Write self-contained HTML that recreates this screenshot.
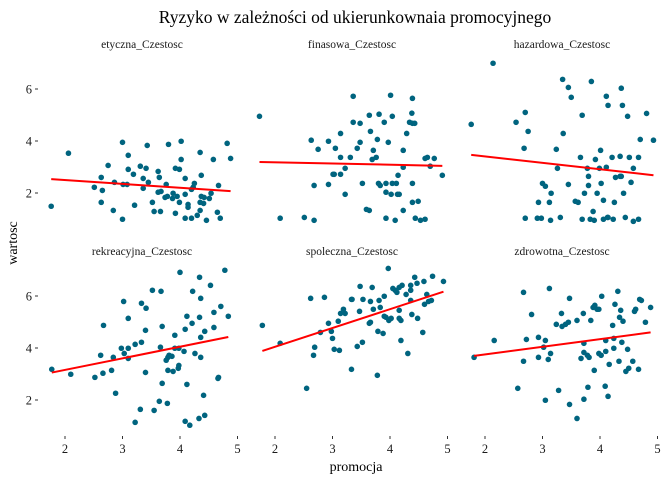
<!DOCTYPE html>
<html><head><meta charset="utf-8">
<style>
body{margin:0;background:#fff;}
svg{display:block;font-family:"Liberation Serif",serif;}
</style></head>
<body>
<svg id="chart" width="672" height="480" viewBox="0 0 672 480">
<text x="355" y="23" font-size="17.5" text-anchor="middle" fill="#000">Ryzyko w zależności od ukierunkownaia promocyjnego</text>
<text x="356" y="471" font-size="14" text-anchor="middle" fill="#000">promocja</text>
<text x="0" y="0" font-size="14" text-anchor="middle" fill="#000" transform="translate(17,243) rotate(-90)">wartosc</text>
<g id="panels"></g>
</svg>
<script>
const facetNames = ["etyczna_Czestosc","finasowa_Czestosc","hazardowa_Czestosc","rekreacyjna_Czestosc","spoleczna_Czestosc","zdrowotna_Czestosc"];
const xTicks = [2,3,4,5];
const yTicks = [2,4,6];
const etycznaX = [1.76,2.06,3.00,3.10,2.75,2.63,2.51,2.65,2.63,2.84,3.00,2.86,3.01,3.08,3.10,3.19,3.21,3.31,3.36,3.36,3.41,3.43,3.45,3.52,3.55,3.62,3.64,3.62,3.67,3.66,3.76,3.74,3.80,3.78,3.87,3.88,3.92,3.99,3.92,3.95,3.99,4.02,4.02,4.09,4.09,4.09,4.14,4.14,4.20,4.20,4.25,4.23,4.30,4.35,4.37,4.37,4.35,4.41,4.35,4.42,4.46,4.51,4.54,4.58,4.67,4.65,4.70,4.82,4.88];
const etycznaY = [1.49,3.53,3.95,3.45,3.06,2.60,2.22,2.10,1.64,1.33,0.99,2.41,2.33,2.33,2.91,2.72,1.53,3.03,2.56,2.18,2.95,3.83,2.41,1.64,1.29,2.83,2.60,2.03,2.06,1.29,2.33,1.83,3.87,1.87,1.79,1.99,2.95,2.91,1.22,1.87,1.64,3.99,3.29,2.56,1.95,1.03,1.56,1.45,2.14,1.03,2.37,2.22,1.14,3.56,2.68,1.87,1.64,1.60,1.33,1.83,0.95,1.79,1.99,3.29,2.29,1.26,1.03,3.91,3.33];
const finasowaX = [1.73,2.09,2.51,2.68,2.63,2.75,2.68,2.93,2.93,3.05,3.01,3.03,3.14,3.14,3.14,3.22,3.22,3.31,3.36,3.36,3.43,3.48,3.48,3.52,3.59,3.64,3.64,3.66,3.71,3.69,3.76,3.78,3.80,3.83,3.81,3.90,3.93,3.93,3.93,3.97,4.01,4.04,4.04,4.02,4.11,4.13,4.16,4.14,4.09,4.23,4.23,4.23,4.29,4.34,4.38,4.39,4.39,4.43,4.39,4.39,4.49,4.44,4.53,4.61,4.61,4.65,4.70,4.77,4.91];
const finasowaY = [4.95,1.03,1.06,0.95,4.03,3.68,2.29,3.99,2.33,3.72,2.72,2.72,4.29,3.37,2.72,2.95,1.95,3.37,5.72,4.72,3.72,4.68,3.95,2.37,1.37,1.33,4.99,4.37,3.64,3.29,3.37,4.06,2.37,2.29,5.03,4.72,2.37,2.03,1.03,3.95,5.76,4.95,2.37,1.95,2.37,1.95,1.95,2.68,0.95,3.64,2.99,1.33,4.29,4.72,5.07,5.64,4.68,4.68,2.37,1.64,1.68,1.03,0.95,0.99,3.33,3.37,3.03,3.33,2.68];
const hazardowaX = [1.76,2.14,2.54,2.70,2.75,2.68,2.70,2.91,2.98,2.93,3.00,3.05,3.15,3.12,3.14,3.24,3.26,3.31,3.35,3.36,3.45,3.50,3.45,3.57,3.62,3.66,3.69,3.69,3.73,3.78,3.80,3.80,3.85,3.83,3.90,3.88,3.92,3.95,3.99,4.01,4.02,4.06,4.06,4.11,4.14,4.11,4.13,4.14,4.21,4.25,4.23,4.27,4.35,4.35,4.37,4.37,4.39,4.41,4.48,4.44,4.51,4.54,4.58,4.58,4.67,4.67,4.70,4.81,4.93];
const hazardowaY = [4.64,6.99,4.72,5.10,4.37,3.72,1.03,1.03,1.03,1.64,2.37,2.26,1.99,1.64,0.95,3.68,2.95,1.06,6.37,4.29,6.06,5.68,2.33,1.68,1.64,3.37,4.99,0.99,1.99,2.95,2.64,2.29,6.29,0.99,0.95,1.29,3.29,1.99,2.95,3.64,2.37,1.72,0.99,5.72,5.37,2.99,1.06,1.06,3.37,1.64,0.99,2.60,3.41,2.64,2.64,6.03,5.37,1.99,4.95,1.06,3.37,2.41,2.95,0.91,3.37,0.99,4.06,5.06,4.03];
const rekreacyjnaX = [1.77,2.10,2.52,2.66,2.62,2.67,2.81,2.84,2.88,2.98,3.02,3.03,3.10,3.10,3.10,3.22,3.22,3.31,3.33,3.33,3.41,3.40,3.40,3.52,3.55,3.64,3.66,3.67,3.69,3.69,3.76,3.78,3.79,3.81,3.86,3.79,3.88,3.91,3.91,3.98,3.97,3.98,4.00,4.07,4.09,4.09,4.12,4.12,4.17,4.21,4.22,4.26,4.33,4.34,4.34,4.36,4.36,4.36,4.41,4.43,4.43,4.53,4.59,4.59,4.66,4.67,4.71,4.78,4.84];
const rekreacyjnaY = [3.18,2.99,2.87,3.03,3.72,4.87,3.14,3.64,2.26,3.99,5.79,3.79,3.99,3.60,5.14,4.14,1.14,1.64,4.22,5.72,5.53,4.68,3.06,6.22,1.60,1.95,4.03,6.18,4.83,2.64,3.53,1.87,3.64,3.72,3.68,3.14,3.10,4.49,3.99,3.99,3.22,3.33,6.91,3.87,4.72,1.18,5.22,2.60,1.03,4.95,6.18,3.79,1.29,6.72,5.18,5.91,4.41,3.64,2.18,4.64,1.41,6.41,5.37,4.79,2.83,2.87,5.60,6.99,5.22];
const spolecznaX = [1.78,2.09,2.55,2.62,2.67,2.69,2.79,2.86,2.93,2.98,3.00,3.03,3.10,3.12,3.14,3.19,3.22,3.33,3.34,3.33,3.43,3.47,3.48,3.52,3.53,3.64,3.66,3.66,3.69,3.71,3.78,3.79,3.81,3.83,3.88,3.90,3.90,3.93,3.97,3.98,4.02,4.05,4.09,4.12,4.16,4.21,4.16,4.16,4.19,4.19,4.28,4.31,4.36,4.36,4.36,4.38,4.43,4.47,4.48,4.57,4.59,4.60,4.64,4.67,4.72,4.74,4.93];
const spolecznaY = [4.87,4.18,2.45,5.91,3.72,4.03,4.60,5.95,4.95,4.64,4.37,3.95,5.03,3.91,5.33,5.49,5.33,5.87,5.87,3.18,4.06,5.41,6.37,4.22,5.87,4.95,4.99,5.79,6.33,5.49,2.95,4.64,5.83,5.56,4.56,5.99,5.22,5.18,7.06,5.06,5.14,6.29,6.22,6.14,6.33,6.41,5.45,5.14,5.06,4.29,6.06,3.79,6.41,6.22,5.83,5.29,6.72,6.49,5.14,4.60,6.56,5.68,6.06,5.79,5.83,6.76,6.56];
const zdrowotnaX = [1.81,2.16,2.57,2.67,2.67,2.72,2.81,2.93,2.93,3.02,3.05,3.05,3.10,3.14,3.12,3.24,3.28,3.33,3.34,3.40,3.45,3.47,3.47,3.60,3.60,3.67,3.71,3.72,3.72,3.72,3.78,3.81,3.79,3.84,3.88,3.91,3.90,3.95,3.98,3.98,4.02,4.03,4.09,4.10,4.10,4.14,4.16,4.22,4.24,4.24,4.26,4.31,4.33,4.34,4.36,4.40,4.38,4.45,4.48,4.50,4.57,4.60,4.62,4.67,4.69,4.72,4.79,4.88];
const zdrowotnaY = [3.64,4.29,2.45,6.14,3.49,4.33,5.29,4.41,3.64,4.03,4.29,1.99,3.56,3.79,6.29,4.91,2.37,5.33,4.83,4.91,4.99,5.91,1.83,1.29,5.06,3.60,5.33,4.18,3.83,2.03,3.72,3.64,2.49,5.06,5.56,5.64,3.14,5.49,5.49,3.79,3.72,5.99,2.53,4.29,3.87,2.14,3.37,4.87,4.37,3.99,5.68,6.18,3.49,5.18,5.45,5.03,4.22,3.10,3.95,3.22,3.49,5.41,5.49,3.18,5.87,5.83,4.99,5.56];

const seriesX = [etycznaX, finasowaX, hazardowaX, rekreacyjnaX, spolecznaX, zdrowotnaX];
const seriesY = [etycznaY, finasowaY, hazardowaY, rekreacyjnaY, spolecznaY, zdrowotnaY];

const NS = "http://www.w3.org/2000/svg";
const root = document.getElementById("panels");
function mk(tag, attrs, parent){
  const e = document.createElementNS(NS, tag);
  for (const k in attrs) e.setAttribute(k, attrs[k]);
  parent.appendChild(e);
  return e;
}
function xScale(col){ return v => 65 + col*210 + (v-2)*57.5; }
function yScale(row){ return v => (row===0 ? 193 : 400) - (v-2)*26; }

for (let i=0;i<6;i++){
  const row = Math.floor(i/3), col = i%3;
  const sx = xScale(col), sy = yScale(row);
  const g = mk("g", {}, root);
  
  
  const strip = mk("text", {x: 45+col*210+97, y: row===0?48:255, "font-size":"11.5", "text-anchor":"middle", fill:"#1a1a1a"}, g);
  strip.textContent = facetNames[i];
  
  
  if (col===0){
    yTicks.forEach(t=>{
      const lab = mk("text", {x:32, y:sy(t)+4.5, "font-size":"12.5", "text-anchor":"end", fill:"#1a1a1a"}, g);
      lab.textContent = t;
      
      
      const tk = mk("line", {x1:35, x2:38, y1:sy(t), y2:sy(t), stroke:"#333", "stroke-width":1}, g);
      
      
    });
  }
  if (row===1){
    xTicks.forEach(t=>{
      const tk = mk("line", {x1:sx(t), x2:sx(t), y1:436, y2:439, stroke:"#333", "stroke-width":1}, g);
      
      
      const lab = mk("text", {x:sx(t), y:453, "font-size":"12.5", "text-anchor":"middle", fill:"#1a1a1a"}, g);
      lab.textContent = t;
      
      
    });
  }
  const xs = seriesX[i], ys = seriesY[i];
  const n = Math.min(xs.length, ys.length);
  for (let j=0;j<n;j++){
    const c = mk("circle", {cx:sx(xs[j]), cy:sy(ys[j]), r:2.8, fill:"#00647f"}, g);
    
    
  }
  // OLS fit
  let mx=0,my=0; for(let j=0;j<n;j++){mx+=xs[j];my+=ys[j];} mx/=n; my/=n;
  let sxy=0,sxx=0; for(let j=0;j<n;j++){sxy+=(xs[j]-mx)*(ys[j]-my); sxx+=(xs[j]-mx)*(xs[j]-mx);}
  const b = sxy/sxx, a = my - b*mx;
  const x0 = Math.min(...xs.slice(0,n)), x1 = Math.max(...xs.slice(0,n));
  const ln = mk("line", {x1:sx(x0), y1:sy(a+b*x0), x2:sx(x1), y2:sy(a+b*x1), stroke:"#ff0000", "stroke-width":2}, g);
  
  
}
</script>
</body></html>
